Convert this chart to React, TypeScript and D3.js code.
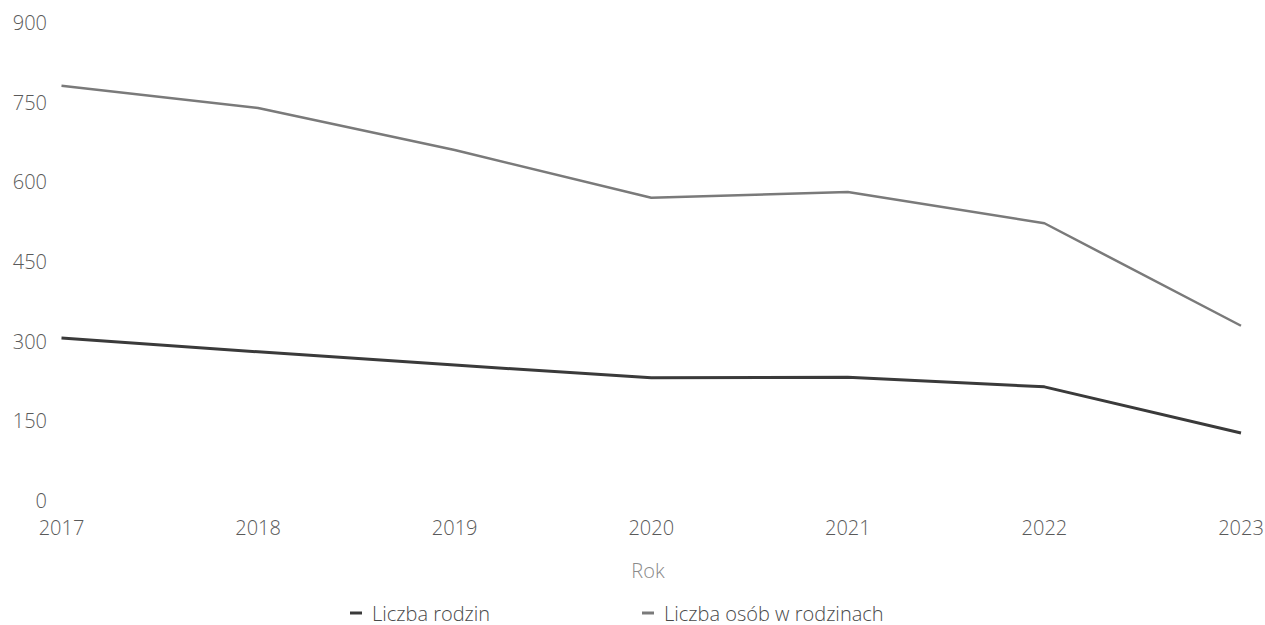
import React from "react";
import * as d3 from "d3";

const years = ["2017", "2018", "2019", "2020", "2021", "2022", "2023"];
const liczbaRodzin = [306, 280, 255, 231, 232, 214, 127];
const liczbaOsob = [781, 739, 660, 570, 581, 522, 329];
const yTicks = [0, 150, 300, 450, 600, 750, 900];
const seriesNames = ["Liczba rodzin", "Liczba osób w rodzinach"];
const seriesColors = ["#3a3a3a", "#7a7a7a"];

const W = 1265;
const H = 625;
const FONT = "'Open Sans', 'DejaVu Sans', sans-serif";

export default function App() {
  const x = d3.scalePoint<string>().domain(years).range([61.5, 1241]);
  const y = d3.scaleLinear().domain([0, 900]).range([500.5, 22.5]);
  const line = d3
    .line<number>()
    .x((_, i) => x(years[i]) as number)
    .y((d) => y(d));
  const series = [liczbaRodzin, liczbaOsob];
  const legendX = [350, 642];

  return (
    <svg
      width={W}
      height={H}
      style={{ position: "absolute", left: 0, top: 0, background: "#fff" }}
      fontFamily={FONT}
    >
      {yTicks.map((t) => (
        <text
          key={t}
          x={47}
          y={y(t)}
          textAnchor="end"
          dominantBaseline="central"
          fontSize={20}
          fontWeight={300}
          fill="#5a5a5a"
        >
          {t}
        </text>
      ))}
      {years.map((yr) => (
        <text
          key={yr}
          x={x(yr)}
          y={527}
          textAnchor="middle"
          dominantBaseline="central"
          fontSize={20}
          fontWeight={300}
          fill="#5a5a5a"
        >
          {yr}
        </text>
      ))}
      <text
        x={648}
        y={570}
        textAnchor="middle"
        dominantBaseline="central"
        fontSize={20}
        fontWeight={300}
        fill="#8a8a8a"
      >
        Rok
      </text>
      {[1, 0].map((si) => (
        <path
          key={si}
          d={line(series[si]) || ""}
          fill="none"
          stroke={seriesColors[si]}
          strokeWidth={si === 0 ? 3 : 2.5}
          strokeLinejoin="round"
        />
      ))}
      {seriesNames.map((n, i) => (
        <g key={n}>
          <line
            x1={legendX[i]}
            x2={legendX[i] + 12}
            y1={613}
            y2={613}
            stroke={seriesColors[i]}
            strokeWidth={3}
          />
          <text
            x={legendX[i] + 22}
            y={613}
            dominantBaseline="central"
            fontSize={20}
            fontWeight={300}
            fill="#4a4a4a"
          >
            {n}
          </text>
        </g>
      ))}
    </svg>
  );
}
